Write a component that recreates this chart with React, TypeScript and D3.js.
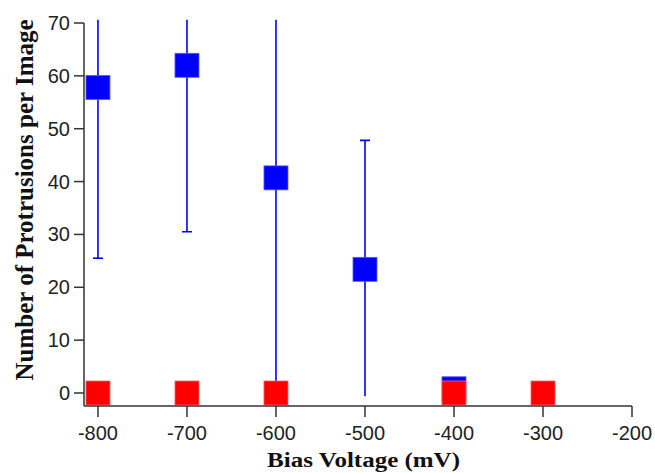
import React from "react";
import * as d3 from "d3";

const blueVoltages = [-800, -700, -600, -500, -400];
const blueMeans = [57.8, 62.0, 40.7, 23.4, 0.8];
const blueLower = [25.5, 30.5, 0, -0.6, 0.8];
const blueUpper = [92, 94, 85, 47.8, 0.8];
const blueLowerCap = [true, true, false, false, false];
const blueUpperCap = [false, false, false, true, false];

const redVoltages = [-800, -700, -600, -400, -300];
const redValues = [0, 0, 0, 0, 0];

const xTicks = [-800, -700, -600, -500, -400, -300, -200];
const yTicks = [0, 10, 20, 30, 40, 50, 60, 70];

const W = 655;
const H = 473;

export default function App() {
  const x = d3.scaleLinear().domain([-815.7, -200]).range([84, 632]);
  const y = d3.scaleLinear().domain([0, 70]).range([393, 23]);
  const axisY = 406;
  const sq = 24;
  const clipTop = y(70.6);
  const clipBottom = axisY;
  const axisColor = "#333";
  const tickFont = "'Liberation Sans', Arial, sans-serif";
  const titleFont = "'Liberation Serif', 'Times New Roman', serif";

  return (
    <svg width={W} height={H} style={{ position: "absolute", left: 0, top: 0, background: "#fff" }}>
      <defs>
        <clipPath id="plotclip">
          <rect x={84} y={clipTop} width={632 - 84} height={clipBottom - clipTop} />
        </clipPath>
      </defs>
      <g clipPath="url(#plotclip)">
        {blueVoltages.map((v, i) => {
          const cx = x(v);
          return (
            <g key={"eb" + i} stroke="#0000ff" strokeWidth={1.6}>
              {blueUpper[i] !== blueLower[i] && (
                <line x1={cx} x2={cx} y1={y(blueLower[i])} y2={y(blueUpper[i])} />
              )}
              {blueLowerCap[i] && (
                <line x1={cx - 5} x2={cx + 5} y1={y(blueLower[i])} y2={y(blueLower[i])} />
              )}
              {blueUpperCap[i] && (
                <line x1={cx - 5} x2={cx + 5} y1={y(blueUpper[i])} y2={y(blueUpper[i])} />
              )}
            </g>
          );
        })}
        {blueVoltages.map((v, i) => (
          <rect
            key={"b" + i}
            x={x(v) - sq / 2}
            y={y(blueMeans[i]) - sq / 2}
            width={sq}
            height={sq}
            fill="#0000ff"
            stroke="#5a5aff"
            strokeWidth={0.8}
          />
        ))}
        {redVoltages.map((v, i) => (
          <rect
            key={"r" + i}
            x={x(v) - sq / 2}
            y={y(redValues[i]) - sq / 2}
            width={sq}
            height={sq}
            fill="#ff0000"
            stroke="#ff6060"
            strokeWidth={0.8}
          />
        ))}
      </g>
      {/* y axis */}
      <line x1={84} x2={84} y1={y(70)} y2={axisY} stroke={axisColor} strokeWidth={1.5} />
      {yTicks.map((t) => (
        <g key={"yt" + t}>
          <line x1={74} x2={84} y1={y(t)} y2={y(t)} stroke={axisColor} strokeWidth={1.5} />
          <text
            x={70}
            y={y(t)}
            textAnchor="end"
            dominantBaseline="central"
            fontFamily={tickFont}
            fontSize={20}
            fill="#222"
          >
            {t}
          </text>
        </g>
      ))}
      {/* x axis */}
      <line x1={84} x2={x(-200)} y1={axisY} y2={axisY} stroke={axisColor} strokeWidth={1.5} />
      {xTicks.map((t) => (
        <g key={"xt" + t}>
          <line x1={x(t)} x2={x(t)} y1={axisY} y2={axisY + 11} stroke={axisColor} strokeWidth={1.5} />
          <text
            x={x(t)}
            y={axisY + 34}
            textAnchor="middle"
            fontFamily={tickFont}
            fontSize={20}
            fill="#222"
          >
            {t}
          </text>
        </g>
      ))}
      <text
        transform="translate(363.5, 467) scale(1.25, 1)"
        textAnchor="middle"
        fontFamily={titleFont}
        fontWeight="bold"
        fontSize={20}
        fill="#111"
      >
        Bias Voltage (mV)
      </text>
      <text
        transform={`translate(33, 200) rotate(-90)`}
        textAnchor="middle"
        fontFamily={titleFont}
        fontWeight="bold"
        fontSize={25}
        fill="#111"
      >
        Number of Protrusions per Image
      </text>
    </svg>
  );
}
